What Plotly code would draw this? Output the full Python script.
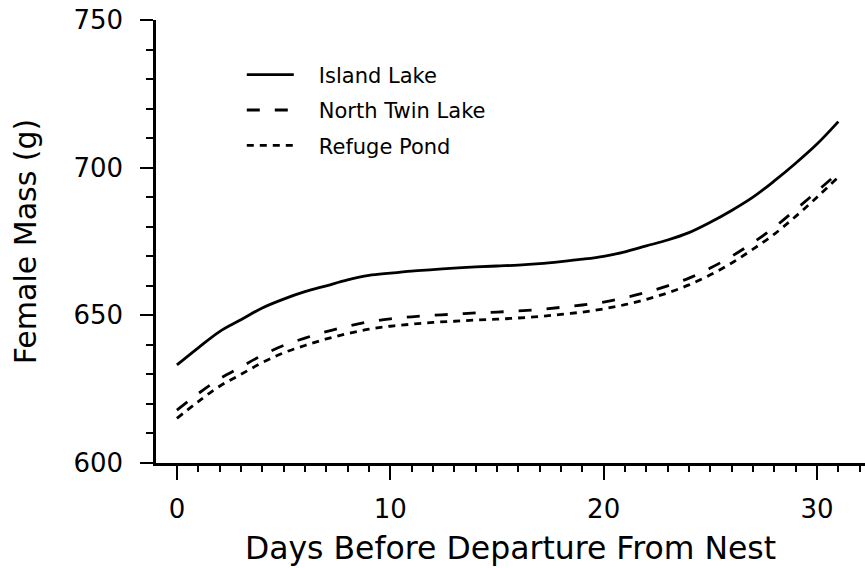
import plotly.graph_objects as go

# ---- data ----
days = list(range(0, 32))

island_lake = [633.2, 639.0, 644.5, 648.5, 652.5, 655.5, 658.0, 660.0, 662.0, 663.5,
               664.3, 665.0, 665.5, 666.0, 666.4, 666.7, 667.0, 667.5, 668.2, 669.0,
               670.0, 671.5, 673.5, 675.5, 678.0, 681.5, 685.5, 690.0, 695.5, 701.5,
               708.0, 715.6]

north_twin_lake = [617.9, 623.5, 628.5, 632.5, 636.5, 639.8, 642.3, 644.5, 646.3, 647.8,
                   648.8, 649.5, 650.0, 650.4, 650.8, 651.1, 651.5, 652.0, 652.7, 653.5,
                   654.5, 656.0, 657.8, 660.0, 662.6, 666.0, 670.0, 674.6, 679.8, 685.8,
                   692.0, 698.3]

refuge_pond = [615.1, 620.8, 626.0, 630.0, 634.0, 637.3, 639.8, 642.0, 643.8, 645.3,
               646.3, 647.0, 647.6, 648.0, 648.4, 648.7, 649.1, 649.6, 650.3, 651.1,
               652.2, 653.6, 655.4, 657.6, 660.3, 663.7, 667.7, 672.4, 677.5, 683.5,
               690.0, 696.8]

series_names = ["Island Lake", "North Twin Lake", "Refuge Pond"]
series_values = [island_lake, north_twin_lake, refuge_pond]
series_dash = ["solid", "13px,15px", "7px,6px"]

x_tick_vals = [0, 10, 20, 30]
y_tick_vals = [600, 650, 700, 750]

x_title = "Days Before Departure From Nest"
y_title = "Female Mass (g)"

# ---- figure ----
fig = go.Figure()
PAD = "\u00a0\u00a0\u00a0"
for name, vals, dash in zip(series_names, series_values, series_dash):
    fig.add_trace(go.Scatter(
        x=days, y=vals, mode="lines", name=PAD + name, legendgroup=name,
        line=dict(color="black", width=2.8, dash=dash, shape="spline"),
    ))

FONT = "DejaVu Sans"

fig.update_layout(
    width=865, height=568,
    margin=dict(l=156, r=0, t=20, b=105),
    plot_bgcolor="white", paper_bgcolor="white",
    font=dict(family=FONT, color="black"),
    showlegend=True,
    legend=dict(
        x=0.121, y=0.922, xanchor="left", yanchor="top",
        font=dict(family=FONT, size=21, color="black"),
        itemwidth=47, tracegroupgap=5,
        bgcolor="rgba(0,0,0,0)", borderwidth=0,
    ),
)

fig.update_xaxes(
    range=[-0.98, 32.25],
    showline=True, linewidth=2.5, linecolor="black",
    showgrid=False, zeroline=False,
    tickmode="array", tickvals=x_tick_vals,
    ticks="outside", ticklen=14, tickwidth=1.5, tickcolor="black",
    minor=dict(tick0=0, dtick=1, ticks="outside", ticklen=6, tickwidth=1.5,
               tickcolor="black", showgrid=False),
    tickfont=dict(family=FONT, size=26, color="black"),
    ticklabelstandoff=7,
    title=dict(text=x_title, font=dict(family=FONT, size=31.5, color="black"), standoff=14),
)

fig.update_yaxes(
    range=[600, 750],
    showline=True, linewidth=2.5, linecolor="black",
    showgrid=False, zeroline=False,
    tickmode="array", tickvals=y_tick_vals,
    ticks="outside", ticklen=13, tickwidth=1.5, tickcolor="black",
    minor=dict(tick0=600, dtick=10, ticks="outside", ticklen=7, tickwidth=1.5,
               tickcolor="black", showgrid=False),
    tickfont=dict(family=FONT, size=26, color="black"),
    ticklabelstandoff=12,
    title=dict(text=y_title, font=dict(family=FONT, size=30, color="black"), standoff=28),
)

fig.write_html("out.html")
